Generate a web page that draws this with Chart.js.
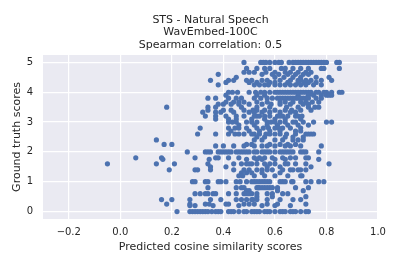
<!DOCTYPE html>
<html>
<head>
<meta charset="utf-8">
<script src="https://cdn.jsdelivr.net/npm/chart.js@4/dist/chart.umd.min.js"></script>
<style>
  html, body { margin: 0; padding: 0; background: #ffffff; }
  #wrap { width: 399px; height: 266px; }
</style>
</head>
<body>
<div id="wrap"><canvas id="chartSts" width="399" height="266"></canvas></div>
<script>
// ground truth score rows (y) and the predicted cosine similarities (x) seen on each row
const scoreLevels = [5, 4.8, 4.67, 4.6, 4.5, 4.4, 4.33, 4.25, 4, 3.9, 3.8, 3.67, 3.6, 3.5, 3.4, 3.33, 3.2, 3.1, 3,
    2.9, 2.8, 2.7, 2.6, 2.5, 2.4, 2.25, 2.2, 2, 1.8, 1.75, 1.6, 1.5, 1.4, 1.3, 1.2, 1, 0.8, 0.7, 0.6, 0.5, 0.4, 0.25, 0.2, 0];

const predictedAtLevel = [
    [0.48, 0.545, 0.555, 0.565, 0.58, 0.60, 0.615, 0.625, 0.655, 0.67, 0.68, 0.69, 0.70, 0.71, 0.72, 0.73, 0.74, 0.75, 0.76, 0.77, 0.78, 0.79, 0.80, 0.84, 0.85],
    [0.49, 0.53, 0.56, 0.58, 0.625, 0.64, 0.67, 0.70, 0.73, 0.78, 0.79, 0.85],
    [0.48, 0.50, 0.52, 0.565, 0.60, 0.64, 0.66, 0.69, 0.72, 0.74],
    [0.38, 0.55, 0.59, 0.615, 0.65, 0.68, 0.71, 0.73],
    [0.45, 0.60, 0.635, 0.67, 0.70, 0.76, 0.81],
    [0.35, 0.42, 0.44, 0.49, 0.51, 0.55, 0.57, 0.62, 0.66, 0.69, 0.70, 0.72, 0.74, 0.78, 0.82],
    [0.41, 0.50, 0.53, 0.58, 0.60, 0.65, 0.69, 0.715, 0.73, 0.76],
    [0.38, 0.52, 0.54, 0.56, 0.575, 0.60, 0.62, 0.64, 0.66, 0.68, 0.70, 0.72, 0.75, 0.78],
    [0.42, 0.435, 0.455, 0.50, 0.525, 0.545, 0.56, 0.58, 0.60, 0.61, 0.62, 0.63, 0.64, 0.65, 0.66, 0.67, 0.68, 0.69, 0.70, 0.71, 0.72, 0.73, 0.74, 0.76, 0.77, 0.79, 0.80, 0.82, 0.85, 0.86],
    [0.41, 0.53, 0.56, 0.69, 0.73, 0.75, 0.78, 0.80, 0.81, 0.82],
    [0.34, 0.37, 0.42, 0.45, 0.47, 0.52, 0.545, 0.57, 0.59, 0.61, 0.62, 0.63, 0.64, 0.65, 0.66, 0.67, 0.68, 0.69, 0.70, 0.71, 0.72, 0.73, 0.76, 0.78],
    [0.41, 0.44, 0.46, 0.48, 0.53, 0.57, 0.62, 0.64, 0.67, 0.70, 0.72, 0.745, 0.77],
    [0.38, 0.40, 0.43, 0.46, 0.50, 0.55, 0.585, 0.62, 0.66, 0.71, 0.73],
    [0.18, 0.34, 0.37, 0.47, 0.53, 0.58, 0.645, 0.69, 0.73, 0.755, 0.77],
    [0.34, 0.40, 0.43, 0.48, 0.515, 0.53, 0.56, 0.60, 0.64, 0.665, 0.70, 0.74],
    [0.32, 0.37, 0.39, 0.44, 0.50, 0.52, 0.55, 0.58, 0.62, 0.66, 0.68],
    [0.33, 0.37, 0.41, 0.45, 0.48, 0.52, 0.53, 0.54, 0.56, 0.58, 0.61, 0.62, 0.63, 0.65, 0.68, 0.69, 0.705],
    [0.37, 0.42, 0.45, 0.51, 0.56, 0.60, 0.64, 0.70],
    [0.42, 0.435, 0.45, 0.49, 0.51, 0.53, 0.57, 0.585, 0.60, 0.62, 0.64, 0.67, 0.68, 0.71, 0.75, 0.80, 0.82],
    [0.46, 0.52, 0.57, 0.61, 0.65, 0.69, 0.73],
    [0.31, 0.42, 0.445, 0.46, 0.49, 0.53, 0.555, 0.575, 0.60, 0.615, 0.63, 0.66, 0.70],
    [0.43, 0.50, 0.54, 0.58, 0.62, 0.68, 0.70],
    [0.30, 0.37, 0.42, 0.445, 0.46, 0.48, 0.51, 0.52, 0.54, 0.565, 0.58, 0.60, 0.62, 0.645, 0.68, 0.72, 0.73, 0.74, 0.75],
    [0.53, 0.56, 0.64, 0.67, 0.71],
    [0.14, 0.52, 0.55, 0.60, 0.63, 0.67, 0.69, 0.71],
    [0.17, 0.20, 0.49, 0.51, 0.58, 0.62, 0.65, 0.68],
    [0.37, 0.40, 0.44, 0.48, 0.52, 0.55, 0.57, 0.60, 0.64, 0.66, 0.70, 0.78],
    [0.26, 0.33, 0.34, 0.35, 0.38, 0.39, 0.40, 0.41, 0.42, 0.43, 0.45, 0.46, 0.47, 0.48, 0.49, 0.50, 0.52, 0.53, 0.55, 0.56, 0.57, 0.58, 0.60, 0.62, 0.63, 0.64, 0.65, 0.66, 0.67, 0.70, 0.71, 0.72, 0.77],
    [0.06, 0.16, 0.29, 0.37, 0.38, 0.42, 0.46, 0.52, 0.54, 0.56, 0.59, 0.63, 0.66, 0.68, 0.72, 0.73],
    [0.165, 0.345, 0.49, 0.53, 0.55, 0.60, 0.64, 0.77],
    [-0.05, 0.14, 0.21, 0.34, 0.44, 0.47, 0.49, 0.50, 0.51, 0.53, 0.56, 0.58, 0.60, 0.64, 0.65, 0.68, 0.72, 0.81],
    [0.35, 0.41, 0.57, 0.62, 0.74],
    [0.19, 0.29, 0.30, 0.35, 0.44, 0.48, 0.50, 0.53, 0.55, 0.57, 0.59, 0.63, 0.66, 0.67, 0.69, 0.70, 0.72],
    [0.47, 0.49, 0.51, 0.55, 0.62],
    [0.46, 0.475, 0.52, 0.56, 0.60, 0.65, 0.70, 0.705],
    [0.28, 0.29, 0.33, 0.34, 0.38, 0.39, 0.41, 0.45, 0.465, 0.49, 0.51, 0.52, 0.53, 0.54, 0.55, 0.56, 0.57, 0.58, 0.62, 0.63, 0.64, 0.665, 0.67, 0.72, 0.74, 0.77, 0.79],
    [0.34, 0.45, 0.47, 0.48, 0.53, 0.535, 0.54, 0.55, 0.56, 0.57, 0.58, 0.59, 0.61, 0.68, 0.73],
    [0.49, 0.50, 0.61, 0.71],
    [0.29, 0.31, 0.33, 0.34, 0.36, 0.37, 0.42, 0.45, 0.48, 0.49, 0.50, 0.51, 0.53, 0.57, 0.59, 0.63, 0.65],
    [0.53, 0.59, 0.72],
    [0.16, 0.20, 0.27, 0.35, 0.39, 0.45, 0.47, 0.49, 0.51, 0.515, 0.53, 0.57, 0.62, 0.67, 0.70],
    [0.18, 0.27, 0.33, 0.345, 0.41, 0.42, 0.48, 0.50, 0.52, 0.57, 0.61, 0.72],
    [0.27, 0.29, 0.36, 0.46, 0.55, 0.60, 0.66],
    [0.22, 0.27, 0.28, 0.29, 0.30, 0.31, 0.32, 0.33, 0.34, 0.355, 0.37, 0.38, 0.39, 0.42, 0.43, 0.44, 0.46, 0.48, 0.49, 0.51, 0.52, 0.53, 0.54, 0.56, 0.57, 0.58, 0.60, 0.62, 0.63, 0.64, 0.66, 0.67, 0.68, 0.70, 0.72, 0.73]
];

const xTicks = [-0.2, 0.0, 0.2, 0.4, 0.6, 0.8, 1.0];
const yTicks = [0, 1, 2, 3, 4, 5];
const titleLines = ["STS - Natural Speech", "WavEmbed-100C", "Spearman correlation: 0.5"];

const textColor = "#262626";
const fontFamily = "'DejaVu Sans', sans-serif";

// flatten rows into scatter points
let points = [];
scoreLevels.forEach(function (level, i) {
    predictedAtLevel[i].forEach(function (x) {
        points.push({ x: x, y: level });
    });
});

// seaborn darkgrid background behind the plot
const plotBackground = {
    id: 'plotBackground',
    beforeDraw(chart) {
        const { ctx, chartArea } = chart;
        ctx.save();
        ctx.fillStyle = "#EAEAF2";
        ctx.fillRect(chartArea.left, chartArea.top, chartArea.right - chartArea.left, chartArea.bottom - chartArea.top);
        ctx.restore();
    }
};

new Chart(document.getElementById('chartSts'), {
    type: 'scatter',
    data: {
        datasets: [{
            data: points,
            backgroundColor: "#4C72B0",
            borderColor: "#4C72B0",
            borderWidth: 0,
            pointRadius: 2.6,
            pointHoverRadius: 2.6
        }]
    },
    options: {
        responsive: false,
        animation: false,
        layout: { padding: { left: 0, right: 21, top: 0, bottom: 0 } },
        scales: {
            x: {
                type: 'linear',
                min: -0.3,
                max: 1.0,
                afterBuildTicks: function (axis) {
                    axis.ticks = xTicks.map(v => ({ value: v }));
                },
                afterFit: function (axis) { axis.height = 47; },
                border: { display: false },
                grid: { color: "#ffffff", lineWidth: 1.2, drawTicks: false },
                ticks: {
                    padding: 7,
                    color: textColor,
                    font: { family: fontFamily, size: 10 },
                    maxRotation: 0,
                    callback: function (value) {
                        return value < 0 ? "\u2212" + Math.abs(value).toFixed(1) : value.toFixed(1);
                    }
                },
                title: {
                    display: true,
                    text: "Predicted cosine similarity scores",
                    color: textColor,
                    font: { family: fontFamily, size: 11 },
                    padding: { top: 0, bottom: 12 }
                }
            },
            y: {
                type: 'linear',
                min: -0.25,
                max: 5.25,
                afterBuildTicks: function (axis) {
                    axis.ticks = yTicks.map(v => ({ value: v }));
                },
                afterFit: function (axis) { axis.width = 43; },
                border: { display: false },
                grid: { color: "#ffffff", lineWidth: 1.2, drawTicks: false },
                ticks: {
                    padding: 10,
                    color: textColor,
                    font: { family: fontFamily, size: 10 },
                    callback: function (value) { return String(value); }
                },
                title: {
                    display: true,
                    text: "Ground truth scores",
                    color: textColor,
                    font: { family: fontFamily, size: 11 },
                    padding: { top: 11, bottom: 0 }
                }
            }
        },
        plugins: {
            legend: { display: false },
            tooltip: { enabled: false },
            title: {
                display: true,
                fullSize: false,
                text: titleLines,
                color: textColor,
                font: { family: fontFamily, size: 11, weight: 'normal', lineHeight: 1.12 },
                padding: { top: 14, bottom: 4 }
            }
        }
    },
    plugins: [plotBackground]
});
</script>
</body>
</html>
